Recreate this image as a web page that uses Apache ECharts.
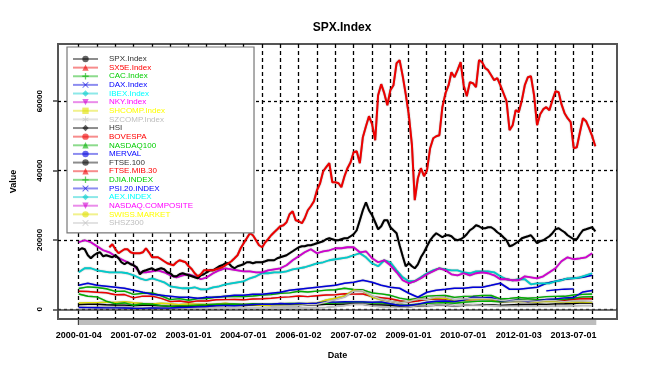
<!DOCTYPE html>
<html><head><meta charset="utf-8">
<script src="https://cdn.jsdelivr.net/npm/echarts@6/dist/echarts.min.js"></script>
<style>html,body{margin:0;padding:0;background:#fff}#c{width:647px;height:375px}</style>
</head><body><div id="c"></div>
<script>
// ---------- axis ticks / labels ----------
const tickDates = ['2000-01-04','2000-07-03','2001-01-02','2001-07-02','2002-01-02','2002-07-01','2003-01-01','2003-07-01','2004-01-02','2004-07-01','2005-01-03','2005-07-01','2006-01-02','2006-07-03','2007-01-02','2007-07-02','2008-01-02','2008-07-01','2009-01-01','2009-07-01','2010-01-04','2010-07-01','2011-01-03','2011-07-01','2012-01-03','2012-07-02','2013-01-02','2013-07-01','2014-01-02'];
const labelDates = ['2000-01-04','2001-07-02','2003-01-01','2004-07-01','2006-01-02','2007-07-02','2009-01-01','2010-07-01','2012-01-03','2013-07-01'];
const yTicks = [0, 20000, 40000, 60000];
const firstDate = '2000-01-04';
const lastDate = '2014-02-14';

// ---------- series values (sampled every `step` months from 2000-01, beginning at month `start`) ----------
const spx = [1400,1450,1450,1320,1240,1200,1050,1150,1150,990,830,880,850,980,1000,1100,1130,1140,1110,1210,1180,1190,1230,1250,1290,1270,1330,1420,1420,1500,1520,1470,1320,1280,1160,900,800,920,1050,1115,1170,1030,1140,1260,1325,1320,1130,1260,1400,1360,1440,1425,1570,1610,1680,1850,1800];
const sx5e = [5200,5150,4900,4770,4200,4250,3300,3800,3780,3130,2200,2390,2040,2420,2400,2760,2790,2810,2730,2950,3050,3180,3430,3580,3850,3650,3900,4120,4180,4490,4380,4400,3630,3350,3040,2450,2070,2400,2870,2960,2930,2570,2750,2790,2910,2850,2180,2320,2480,2260,2450,2630,2620,2600,2890,3110,3050];
const cac = [6000,6450,6270,5930,5180,5220,4300,4620,4690,3900,2780,3060,2620,3080,3130,3560,3670,3730,3640,3820,4070,4230,4600,4720,5220,4970,5250,5540,5630,6050,5720,5610,4710,4430,4030,3220,2800,3140,3800,3940,3970,3440,3720,3800,4000,3980,2980,3160,3420,3200,3350,3640,3730,3740,4140,4300,4400];
const dax = [6920,7500,6920,6640,6350,6060,5480,4900,4330,4040,3750,3460,3460,3170,3460,3460,3750,4040,4040,4330,4330,4620,4900,5480,5770,6060,6350,6640,6920,7500,7790,8370,7790,6920,6350,6060,4620,3460,4900,5480,5770,6060,6060,6350,6350,6920,7500,5770,5770,6060,6350,7500,8080,8660,8940,9230,9810];
const ibex = [10670,11830,11830,11250,10960,10670,10670,10670,10390,9810,8940,8370,8940,8370,7790,6640,6350,6060,6060,6350,5770,5770,6350,6640,7210,7500,7790,8080,8940,9520,10390,10390,10670,10670,10960,11540,11830,12120,12690,13270,13560,14140,14430,14710,15000,15580,16160,15000,13270,12400,14140,13560,11250,9230,8080,8080,9230,10390,11250,11830,11540,11250,11250,10670,10390,10960,10960,10960,10670,9520,8660,8370,8660,8660,7210,7500,7500,7500,8080,8370,8940,8940,9230,9810,10390];
const nky = [19330,19910,19330,18180,17020,16440,15290,14430,13560,12690,10670,10670,10960,11250,10670,9810,9230,9810,10100,9520,8660,9230,10390,11250,11830,11540,11250,10960,10960,10670,10670,11250,11540,11830,12690,14140,15290,16440,17310,16160,16730,17020,17600,17600,17890,17890,16440,16730,14710,13560,14140,12690,10670,8370,7500,8080,8940,10100,10960,11830,11250,10100,9810,10390,9810,10390,10670,10390,9810,8660,8660,8370,8370,9520,9230,8940,9520,10670,11830,13850,15000,14430,14710,15000,16160];
const shcomp = [1800,1930,1910,2070,1980,2220,1900,1650,1520,1730,1580,1360,1510,1490,1370,1500,1740,1400,1400,1270,1180,1080,1160,1160,1300,1670,1750,2680,3180,3820,5550,5260,3470,2740,2290,1820,2370,2960,2780,3280,3110,2400,2660,2810,2930,2760,2360,2200,2260,2220,2080,2270,2240,1980,2170,2120,2050];
const szcomp = [550,600,620,630,600,650,530,470,430,500,450,380,400,390,350,380,420,350,340,320,300,280,290,280,320,420,430,550,800,1100,1500,1450,1000,750,630,550,750,980,1000,1200,1300,1000,1200,1300,1200,1100,950,870,920,930,840,880,900,930,1000,1050,1050];
const hsi = [17020,17600,17310,15580,14710,15580,16160,16440,15290,15580,15290,15000,15580,14710,13560,12980,13560,12980,12690,12120,10100,10960,11250,11540,11830,11250,11540,11830,11540,10670,10390,9520,9520,10100,10390,10100,9810,9520,9230,8940,9810,10100,10670,11250,11250,11830,12400,12690,13270,13270,12400,11830,12400,12690,12980,13560,13560,13270,13560,13560,13560,13850,14140,14140,14140,14710,15000,15290,15580,16160,16730,17310,17890,18180,18180,18460,18460,18750,19040,19330,19620,20200,20480,20200,19910,19910,20200,20480,20480,21060,21640,22790,25680,28560,30870,28560,27120,25100,23080,23950,25680,25680,23660,22790,21930,18460,15290,12400,13270,12400,11830,12980,15000,16440,18180,19910,21060,21930,21350,20770,21350,21350,21060,20200,19910,20200,20770,21640,22790,23370,24230,23950,23370,23370,23660,23660,23080,22210,21640,20770,19910,18180,18460,19040,19620,20480,20770,21060,21350,20200,19040,19620,19910,20480,21060,21930,23080,23370,22790,22210,21350,20770,20200,20200,21640,22790,23080,23370,23660,22500];
const bovespa = [17890,18750,17310,16160,16730,17310,17310,16440,16160,16160,16160,16440,17600,16440,15000,15000,15000,14430,13850,13270,12980,12690,13560,14140,13850,13560,12400,11540,10390,9520,10100,11250,11250,11250,11250,11540,11830,12120,12690,13270,13850,14710,15580,17600,19040,20480,21930,21350,19910,18460,17890,19330,20200,21350,22210,23080,23950,24230,25100,27410,28270,25680,25390,24810,26250,28560,29720,31160,34330,36350,39810,40970,42120,36640,36640,36350,35200,38370,40680,42410,45290,45580,42120,49620,52800,55680,53370,48760,61740,64910,62320,58850,63180,64620,70970,71840,67220,62030,55970,47310,31450,37790,40680,38370,40100,46450,49330,49910,50200,58280,62320,64620,68370,66930,68950,71260,64620,61450,65490,65200,64050,71840,71260,69530,68950,67510,66070,66640,64620,62320,60010,51640,53080,57410,56830,60300,64620,66930,67220,61740,53080,56260,57700,58280,57410,60300,62890,62600,59140,56550,55100,53950,46450,46740,51060,55100,54240,52220,49910,47030];
const nasdaq100 = [4400,3760,3570,2340,1570,1830,1150,1580,1450,1050,830,980,1020,1200,1300,1470,1440,1520,1410,1620,1480,1490,1600,1650,1700,1580,1650,1760,1770,1930,2090,2080,1780,1840,1480,1210,1240,1480,1710,1860,1960,1750,2020,2220,2340,2300,2140,2280,2750,2620,2800,2660,2820,2910,3220,3590,3600];
const merval = [530,480,450,420,410,390,300,250,400,340,380,520,580,700,800,1070,1100,1000,1200,1370,1480,1450,1650,1540,1700,1600,1750,2090,2080,2160,2150,2150,2050,2150,1600,1080,1090,1480,2020,2320,2390,2230,2680,3520,3370,3390,2460,2460,2600,2250,2420,2850,3000,3300,3400,5000,5400];
const ftse100 = [];
const ftseMib30 = [];
const djia = [];
const psi20 = [5300,5600,5800,5900];
const aex = [];
const nasdaqComp = [];
const swissMarket = [];
const shsz300 = [920,880,950,1000,1350,1400,2040,2780,3510,5250,5340,3850,2890,2300,1820,2230,2990,2840,3580,3500,2760,2950,3130,3130,3000,2600,2350,2520,2460,2290,2520,2500,2170,2420,2360,2200];

const seriesNames = ['SPX.Index','SX5E.Index','CAC.Index','DAX.Index','IBEX.Index','NKY.Index','SHCOMP.Index','SZCOMP.Index','HSI','BOVESPA','NASDAQ100','MERVAL','FTSE.100','FTSE.MIB.30','DJIA.INDEX','PSI.20.INDEX','AEX.INDEX','NASDAQ.COMPOSITE','SWISS.MARKET','SHSZ300'];
const seriesValues = [spx,sx5e,cac,dax,ibex,nky,shcomp,szcomp,hsi,bovespa,nasdaq100,merval,ftse100,ftseMib30,djia,psi20,aex,nasdaqComp,swissMarket,shsz300];
const seriesStep = [3,3,3,3,2,2,3,3,1,1,3,3,3,3,3,3,3,3,3,3];
const seriesStart = [0,0,0,0,0,0,0,0,0,10,0,0,0,0,0,153,0,0,0,63];

// ---------- styling ----------
const rColors = ['#000000','#FF0000','#00CD00','#0000FF','#00FFFF','#FF00FF','#FFFF00','#BEBEBE'];
const lineColors = ['#000000','#EE0000','#00B000','#0000DD','#00CCCC','#D000D0','#E0E000','#BEBEBE'];
const colorIdx = [0,1,2,3,4,5,6,7,0,1,2,3,0,1,2,3,4,5,6,7];
const lineWidths = [1.4,1.4,1.4,1.6,1.8,1.8,1.4,1.4,2,2,1.4,1.4,1.4,1.4,1.4,1.4,1.4,1.4,1.4,1.4];
const P_PLUS = 'path://M4,0H6V4H10V6H6V10H4V6H0V4H4Z';
const P_CROSS = 'path://M1,0L5,4L9,0L10,1L6,5L10,9L9,10L5,6L1,10L0,9L4,5L0,1Z';
const P_DOWN = 'path://M0,0H10L5,9Z';
const P_STAR = 'path://M4.3,0H5.7V3.8L9,1.9L9.7,3.1L6.4,5L9.7,6.9L9,8.1L5.7,6.2V10H4.3V6.2L1,8.1L0.3,6.9L3.6,5L0.3,3.1L1,1.9L4.3,3.8Z';
const symbols = ['circle','triangle',P_PLUS,P_CROSS,'diamond',P_DOWN,'rect',P_STAR,'diamond','circle','triangle','circle','circle','triangle',P_PLUS,P_CROSS,'diamond',P_DOWN,'circle',P_CROSS];

const T = s => Date.parse(s + 'T00:00:00Z');
const monthDate = m => Date.UTC(2000, m, 4);
const t0 = T(firstDate), t1 = T(lastDate);
const pad = 0.04 * (t1 - t0);
const xMin = t0 - pad, xMax = t1 + pad;
const fmt = v => new Date(v).toISOString().slice(0, 10);
const FONT = 'Liberation Sans, Arial, sans-serif';

const series = seriesNames.map((name, i) => {
  const vals = seriesValues[i];
  const data = vals.map((v, j) => [monthDate(seriesStart[i] + j * seriesStep[i]), v]);
  const c = lineColors[colorIdx[i]];
  const s = {
    name, type: 'line', data, xAxisIndex: 0, yAxisIndex: 0,
    showSymbol: false, symbol: symbols[i], symbolSize: 5,
    color: c, itemStyle: { color: c },
    lineStyle: { width: lineWidths[i], color: c, shadowColor: 'rgba(0,0,0,0.45)', shadowBlur: 1.2 },
    emphasis: { disabled: true }, silent: true, z: 2
  };
  if (i === 0) {
    s.markLine = { silent: true, symbol: 'none', label: { show: false },
      lineStyle: { color: '#444', type: 'solid', width: 1.5 }, data: [{ yAxis: 0 }], z: 1 };
  }
  return s;
});
series.push({
  type: 'line', data: [], xAxisIndex: 1, yAxisIndex: 1, silent: true,
  markArea: { silent: true, itemStyle: { color: '#bdbdbd' },
    data: [[{ xAxis: t0 }, { xAxis: t1 }]] }
});

const tickVals = tickDates.map(T);
const labelVals = labelDates.map(T);

const option = {
  animation: false,
  backgroundColor: '#fff',
  title: { text: 'SPX.Index', left: 337, top: 17, textAlign: 'center',
    textStyle: { fontFamily: FONT, fontSize: 12, fontWeight: 'bold', color: '#000' } },
  legend: {
    orient: 'vertical', left: 67, top: 47,
    padding: [8, 61, 6, 5],
    itemWidth: 25, itemHeight: 8, itemGap: 0.63,
    backgroundColor: '#fff', borderColor: '#777', borderWidth: 1.2,
    lineStyle: { opacity: 0.45, shadowBlur: 0 }, itemStyle: { opacity: 0.6 },
    textStyle: { fontFamily: FONT, fontSize: 8, lineHeight: 8, padding: [0, 0, 0, 6] },
    data: seriesNames.map((n, i) => ({ name: n,
      textStyle: { color: colorIdx[i] === 0 ? '#333' : rColors[colorIdx[i]] } }))
  },
  grid: [
    { left: 58, right: 30, top: 44, bottom: 56, show: true, borderColor: '#555', borderWidth: 2, backgroundColor: 'transparent' },
    { left: 58, right: 30, top: 320, height: 5, show: false }
  ],
  xAxis: [
    { type: 'value', gridIndex: 0, min: xMin, max: xMax,
      axisLine: { show: false }, axisTick: { show: false, customValues: tickVals },
      splitLine: { show: true, lineStyle: { color: '#000', type: [4, 3], width: 1.3 } },
      axisLabel: { customValues: labelVals, formatter: v => fmt(v), margin: 12,
        fontFamily: FONT, fontSize: 9, fontWeight: 'bold', color: '#000' },
      name: 'Date', nameLocation: 'middle', nameGap: 32,
      nameTextStyle: { fontFamily: FONT, fontSize: 9, fontWeight: 'bold', color: '#000' } },
    { type: 'value', gridIndex: 1, min: xMin, max: xMax,
      axisLine: { show: false }, axisTick: { show: false, customValues: tickVals },
      axisLabel: { show: false, customValues: tickVals },
      splitLine: { show: true, lineStyle: { color: '#111', type: 'solid', width: 1.3 } } }
  ],
  yAxis: [
    { type: 'value', gridIndex: 0, min: -2800, max: 76500,
      axisLine: { show: false },
      axisTick: { show: true, length: 5, customValues: yTicks, lineStyle: { color: '#444', width: 1.5 } },
      splitLine: { show: true, lineStyle: { color: '#000', type: [3, 3], width: 1.3 } },
      axisLabel: { customValues: yTicks, rotate: 90, margin: 14, formatter: v => String(v),
        fontFamily: FONT, fontSize: 8, fontWeight: 'bold', color: '#000' },
      name: 'Value', nameLocation: 'middle', nameGap: 40,
      nameTextStyle: { fontFamily: FONT, fontSize: 9, fontWeight: 'bold', color: '#000' } },
    { type: 'value', gridIndex: 1, min: 0, max: 1, show: false }
  ],
  series
};
const chart = echarts.init(document.getElementById('c'), null, { renderer: 'canvas' });
chart.setOption(option);
</script></body></html>
